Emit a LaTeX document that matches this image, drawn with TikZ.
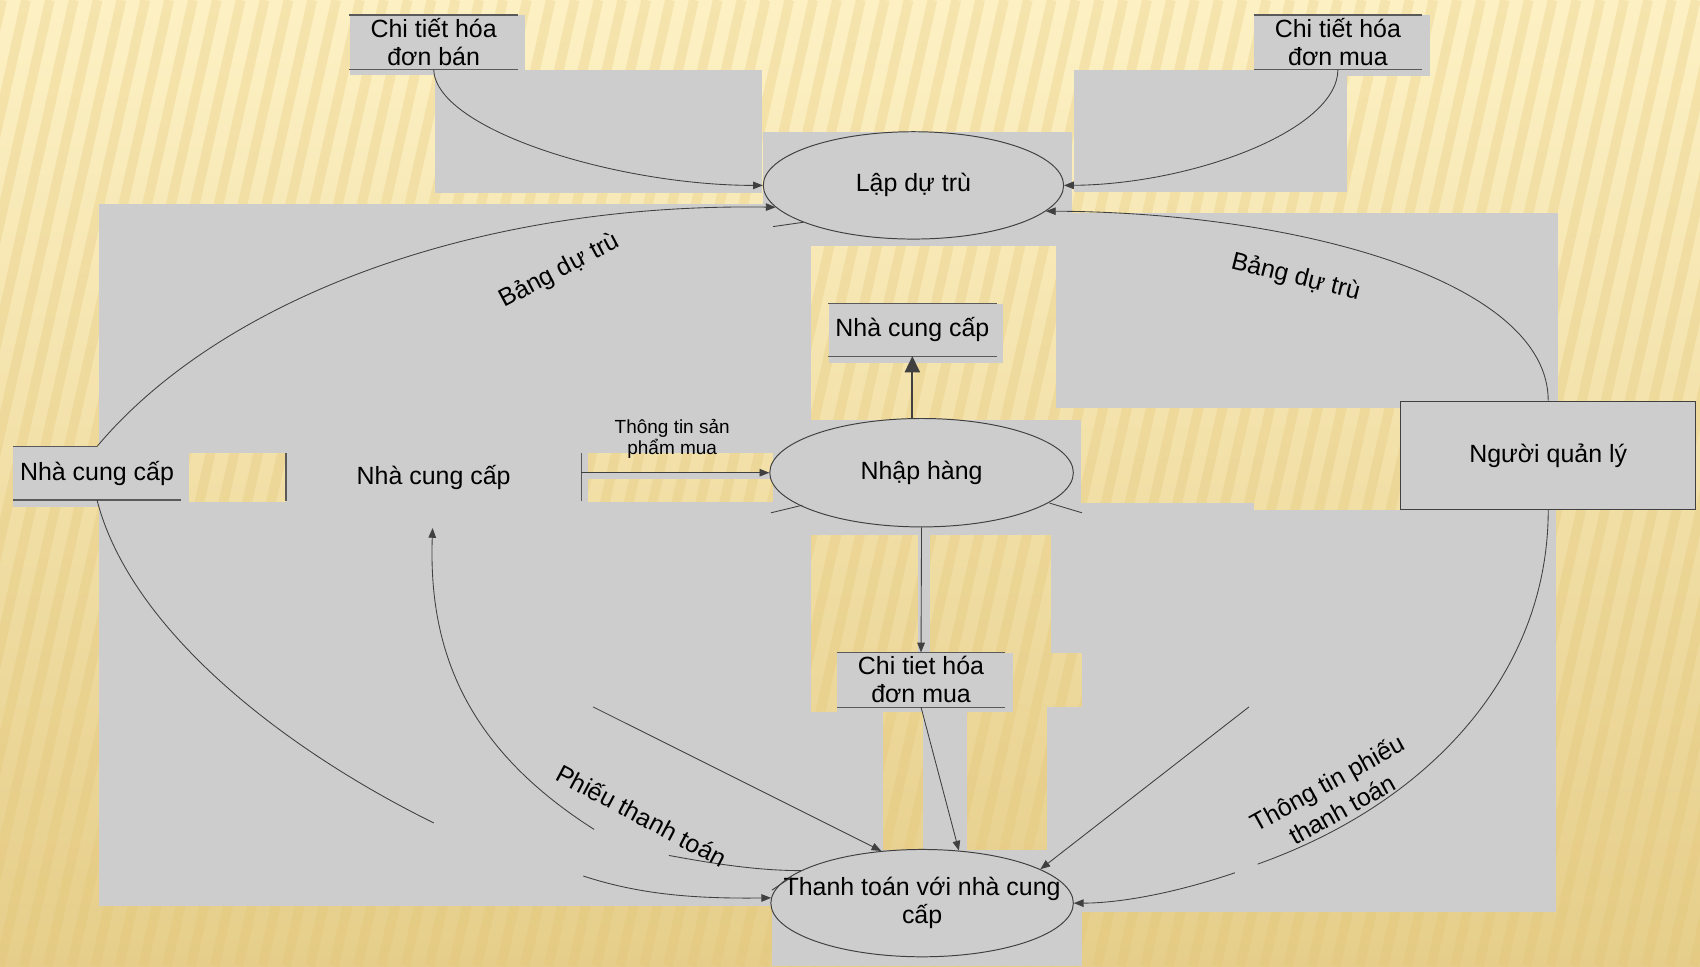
\documentclass[tikz,border=0pt]{standalone}
\usepackage{fontspec}
\setmainfont{Liberation Sans}
\usetikzlibrary{shapes.geometric,arrows.meta}
\definecolor{bgtop}{HTML}{FDF1C4}
\definecolor{bgbot}{HTML}{E6CE8A}
\definecolor{stripe}{HTML}{E2C372}
\definecolor{panel}{HTML}{CDCDCD}
\definecolor{ink}{HTML}{404040}
\definecolor{rule}{HTML}{5A5A5A}
\begin{document}
\begin{tikzpicture}[x=1pt,y=-1pt,
  font=\fontsize{23}{26}\selectfont,
  proc/.style={ellipse, draw=ink, line width=0.9pt, fill=panel, inner sep=0pt},
  store/.style={rectangle, inner sep=0pt, align=center},
  storeline/.style={draw=rule, line width=1pt},
  flow/.style={draw=ink, line width=0.8pt, -{Triangle[length=9pt,width=7pt]}},
  bigflow/.style={draw=ink, line width=1.6pt, -{Triangle[length=15pt,width=14pt]}},
  wire/.style={draw=ink, line width=0.8pt},
  lbl/.style={inner sep=0pt, align=center}]
\useasboundingbox (0,0) rectangle (1568,891);
% background
\fill[top color=bgtop, bottom color=bgbot] (0,0) rectangle (1568,891);
\begin{scope}
  \clip (0,0) rectangle (1568,891);
  \foreach \i in {-12,...,75} {
    \draw[stripe, line width=9pt, opacity=0.28] (\i*22,891) -- (\i*22+200,0);
  }
\end{scope}
% grey panels
\fill[panel] (323,14) rectangle (484,69);
\fill[panel] (401,65) rectangle (703,178);
\fill[panel] (704,122) rectangle (989,227);
\fill[panel] (991,65) rectangle (1242,177);
\fill[panel] (1157,14) rectangle (1319,70);
\fill[panel] (91,188) rectangle (704,227);
\fill[panel] (974,196) rectangle (1437,376);
\fill[panel] (91,227) rectangle (748,418);
\fill[panel] (12,412) rectangle (174,468);
\fill[panel] (264,418) rectangle (542,463);
\fill[panel] (542,435) rectangle (713,442);
\fill[panel] (91,463) rectangle (748,836);
\fill[panel] (765,280) rectangle (925,335);
\fill[panel] (713,387) rectangle (997,493);
\fill[panel] (847,493) rectangle (858,602);
\fill[panel] (772,602) rectangle (934,657);
\fill[panel] (748,657) rectangle (814,836);
\fill[panel] (851,657) rectangle (892,784);
\fill[panel] (712,784) rectangle (998,891);
\fill[panel] (997,464) rectangle (1157,470);
\fill[panel] (969,470) rectangle (1435,602);
\fill[panel] (998,602) rectangle (1435,652);
\fill[panel] (966,652) rectangle (1435,841);

% nodes
\node[store, minimum width=155, minimum height=50] (sban) at (400,39) {Chi tiết hóa\\đơn bán};
\node[store, minimum width=155, minimum height=50] (smua) at (1234,39) {Chi tiết hóa\\đơn mua};
\node[proc, minimum width=277, minimum height=99] (ldt) at (842.5,171) {Lập dự trù};
\node[store, minimum width=155, minimum height=48.5] (ncc3) at (841.5,304) {Nhà cung cấp};
\node[proc, minimum width=280, minimum height=100] (nh) at (850,436) {Nhập hàng};
\node[store, minimum width=155, minimum height=49] (ncc1) at (89.5,436.5) {Nhà cung cấp};
\node[store, minimum width=272, minimum height=44] (ncc2) at (400,440) {Nhà cung cấp};
\node[rectangle, draw=ink, line width=0.9pt, fill=panel, minimum width=272, minimum height=100, inner sep=0pt] (nql) at (1428,420) {Người quản lý};
\node[store, minimum width=155, minimum height=50] (ct2) at (849.5,627) {Chi tiet hóa\\đơn mua};
\node[proc, minimum width=279, minimum height=99] (tt) at (850.5,833) {};
\node[lbl] (ttlabel) at (tt.center) {Thanh toán với nhà cung\\cấp};

% store lines
\draw[storeline] (sban.north west) -- (sban.north east) (sban.south west) -- (sban.south east);
\draw[storeline] (smua.north west) -- (smua.north east) (smua.south west) -- (smua.south east);
\draw[storeline] (ncc3.north west) -- (ncc3.north east) (ncc3.south west) -- (ncc3.south east);
\draw[storeline] (ncc1.north west) -- (ncc1.north) (ncc1.south west) -- (ncc1.south east);
\draw[storeline] (ct2.north west) -- (ct2.north east) (ct2.south west) -- (ct2.south east);
\draw[storeline] (ncc2.north west) -- (ncc2.south west) (ncc2.north east) -- (ncc2.south east);

% free ends
\coordinate (c9s) at (547,652);
\coordinate (c10s) at (1152,652);
\coordinate (c11e) at (400,759);
\coordinate (c11s) at (538,808);
\coordinate (c12s) at (548,765);
\coordinate (c12e) at (399,487);
\coordinate (c12b) at (617,789);
\coordinate (c13e) at (1160,797);
\coordinate (c13s) at (1139,805);

% connectors
\draw[flow] (sban.south) .. controls (402,120) and (570,171) .. (ldt.west);
\draw[flow] (smua.south) .. controls (1234,120) and (1100,170) .. (ldt.east);
\draw[flow] (ncc1.north) .. controls (200,280) and (430,187) .. (ldt.189);
\draw[flow] (nql.north) .. controls (1428,260) and (1200,196) .. (ldt.349);
\draw[bigflow] (nh.north -| ncc3.south) -- (ncc3.south);
\draw[flow] (ncc2.east |- nh.west) -- (nh.west);
\draw[flow] (nh.south) -- (ct2.north);
\draw[flow] (ct2.south) -- (tt.55);
\draw[flow] (c9s) -- (tt.128);
\draw[flow] (c10s) -- (tt.16);
\draw[wire] (ncc1.south) .. controls (120,580) and (260,690) .. (c11e);
\draw[flow] (c11s) .. controls (590,825) and (640,829) .. (tt.178);
\draw[flow] (c12s) .. controls (430,690) and (395,600) .. (c12e);
\draw[wire] (tt.165) .. controls (700,803) and (660,797) .. (c12b);
\draw[wire] (nql.south) .. controls (1428,620) and (1320,740) .. (c13e);
\draw[flow] (c13s) .. controls (1080,825) and (1030,833) .. (tt.east);

% stubs
\draw[wire] (713,209) -- (741,205);
\draw[wire] (711,473) -- (740,466);
\draw[wire] (968,464) -- (998,473);
\draw[wire] (712,821) -- (730,809);

% labels
\node[lbl, rotate=28] (l1) at (516,250) {Bảng dự trù};
\node[lbl, rotate=-14] (l2) at (1195,256) {Bảng dự trù};
\node[lbl, rotate=-28] (l3) at (592,752) {Phiếu thanh toán};
\node[lbl, rotate=29, font=\fontsize{23}{28}\selectfont] (l4) at (1231,734) {Thông tin phiếu\\thanh toán};
\node[lbl, font=\fontsize{17.5}{19}\selectfont] (l5) at (620,405) {Thông tin sản\\phẩm mua};
\end{tikzpicture}
\end{document}
